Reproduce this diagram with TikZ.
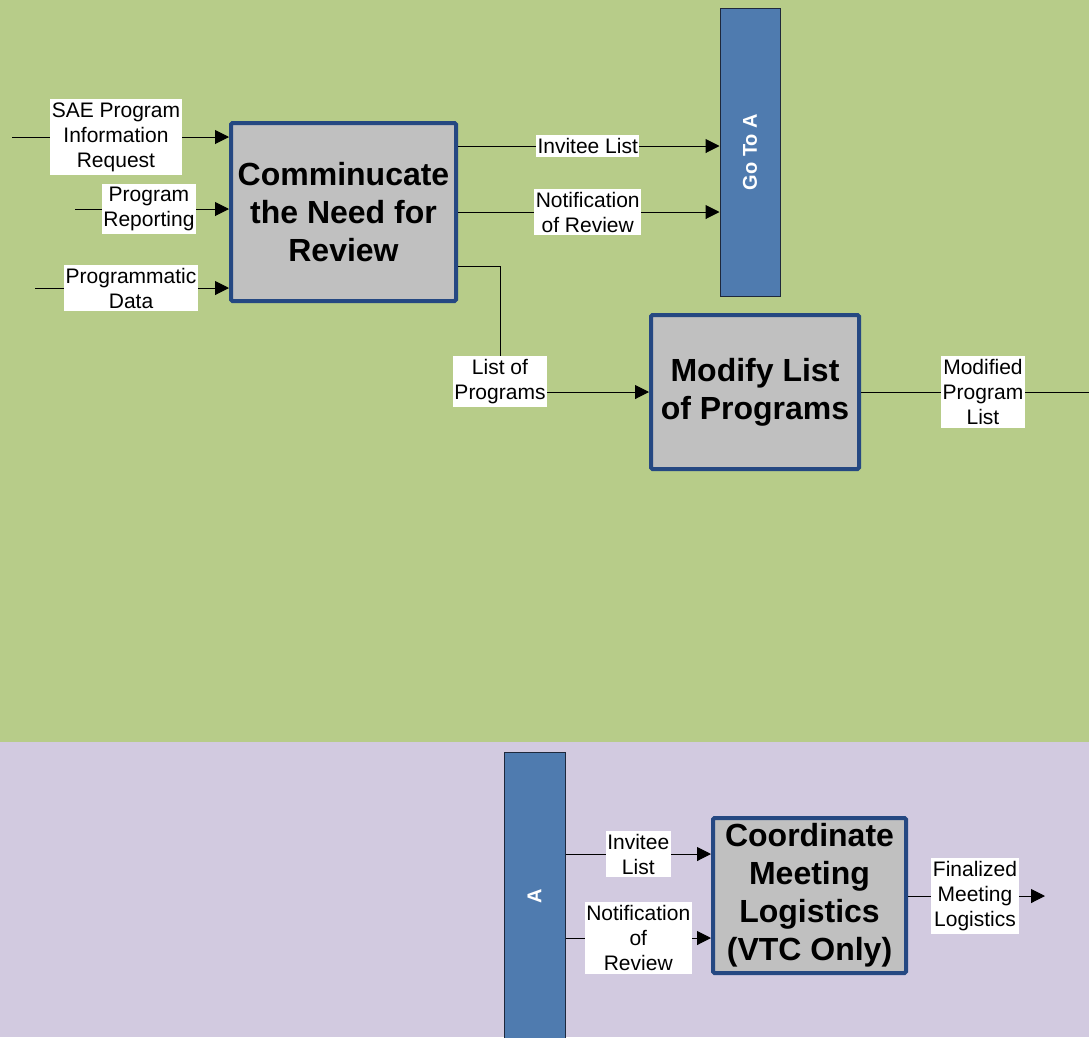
\documentclass[tikz,border=0pt]{standalone}
\usepackage{fontspec}
\setmainfont{Liberation Sans}
\usetikzlibrary{arrows.meta}
\definecolor{lanegreen}{RGB}{183,204,137}
\definecolor{lanelav}{RGB}{210,202,224}
\definecolor{barblue}{RGB}{79,123,175}
\definecolor{barline}{RGB}{30,40,60}
\definecolor{procborder}{RGB}{37,72,130}
\definecolor{procfill}{RGB}{192,192,192}
\tikzset{
  proc/.style={draw=procborder, line width=4pt, fill=procfill, rounded corners=1.5pt,
    align=center, inner sep=0pt, font=\bfseries\fontsize{32}{38}\selectfont},
  bar/.style={draw=barline, line width=1pt, fill=barblue, inner sep=0pt,
    text=white, font=\bfseries\fontsize{20}{24}\selectfont},
  lbl/.style={fill=white, align=center, inner xsep=1.5pt, inner ysep=3pt,
    font=\fontsize{21}{25}\selectfont},
  conn/.style={draw=black, line width=1pt},
  arr/.style={conn, -{Triangle[length=14pt,width=14pt]}}
}
\begin{document}
\begin{tikzpicture}[x=1pt,y=-1pt]
\useasboundingbox (0,0) rectangle (1089,1037);
% lanes
\fill[lanegreen] (0,0) rectangle (1089,741);
\fill[lanelav] (0,741) rectangle (1089,1037);
\draw[lanegreen, line width=1.5pt] (0,741) -- (1089,741);

% process boxes
\node[proc, minimum width=225pt, minimum height=178pt] (comm) at (343.5,212) {Comminucate\\the Need for\\Review};
\node[proc, minimum width=208pt, minimum height=154pt] (mod) at (755,392) {Modify List\\of Programs};
\node[proc, minimum width=193pt, minimum height=155pt] (coord) at (809.5,895.5) {Coordinate\\Meeting\\Logistics\\(VTC Only)};

% off-page bars
\node[bar, minimum width=60pt, minimum height=288pt] (goto) at (750,152) {};
\node[white, font=\bfseries\fontsize{20}{24}\selectfont, rotate=90] (gotoT) at (goto.center) {Go To A};
\node[bar, minimum width=61pt, minimum height=288pt] (abar) at (534.5,896) {};
\node[white, font=\bfseries\fontsize{20}{24}\selectfont, rotate=90] (abarT) at (abar.center) {A};

% free ends
\coordinate (sae0) at (12,137);
\coordinate (rep0) at (75,209);
\coordinate (dat0) at (35,288);
\coordinate (lopc) at (500,392);
\coordinate (modend) at (1089,392);
\coordinate (finend) at (1045,896);

% inputs to comm
\draw[arr] (sae0) -- node[lbl, pos=0.479] {SAE Program\\Information\\Request} (sae0 -| comm.west);
\draw[arr] (rep0) -- node[lbl, pos=0.48] {Program\\Reporting} (rep0 -| comm.west);
\draw[arr] (dat0) -- node[lbl, pos=0.495] {Programmatic\\Data} (dat0 -| comm.west);

% outputs of comm
\draw[arr] (comm.east |- 0,146) -- node[lbl, pos=0.496] {Invitee List} (goto.west |- 0,146);
\draw[arr] (comm.east |- 0,212) -- node[lbl, pos=0.496] {Notification\\of Review} (goto.west |- 0,212);
\draw[arr] (comm.east |- 0,266) -| (lopc) -- (mod.west |- lopc);
\node[lbl] (lop) at (500,381.5) {List of\\Programs};

% output of mod
\draw[conn] (mod.east |- lopc) -- node[lbl, pos=0.535] {Modified\\Program\\List} (modend);

% bottom lane
\draw[arr] (abar.east |- 0,854) -- node[lbl, pos=0.5] {Invitee\\List} (coord.west |- 0,854);
\draw[arr] (abar.east |- 0,938) -- node[lbl, pos=0.5] {Notification\\of\\Review} (coord.west |- 0,938);
\draw[arr] (coord.east |- finend) -- node[lbl, pos=0.489] {Finalized\\Meeting\\Logistics} (finend);
\end{tikzpicture}
\end{document}
